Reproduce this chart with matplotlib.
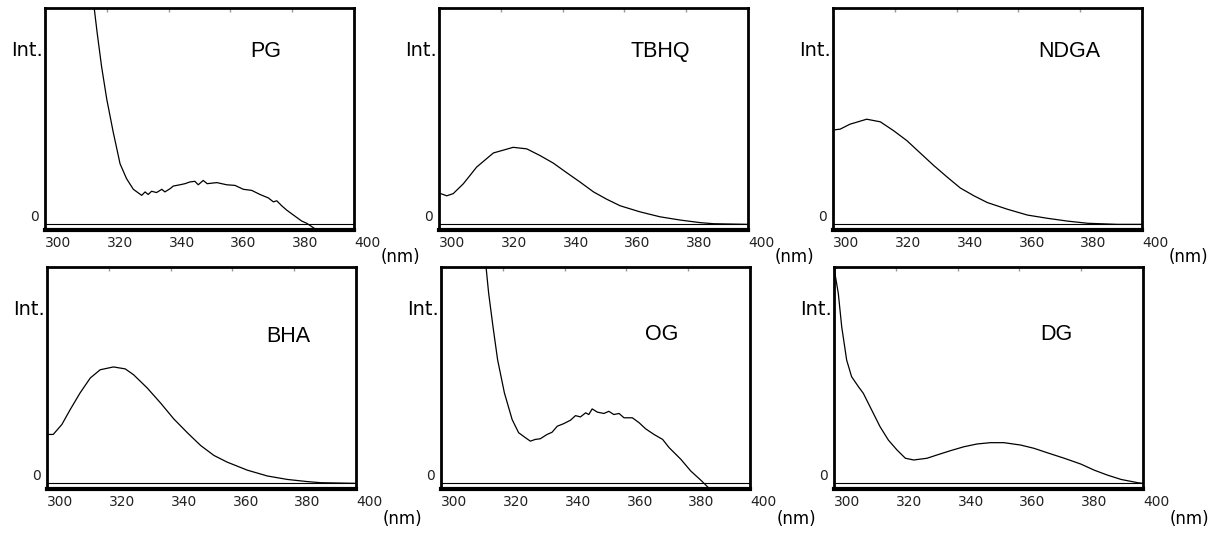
"""
Fluorescence spectra of six antioxidants (PG, TBHQ, NDGA, BHA, OG, DG),
redrawn as a 2x3 grid in the style of an old instrument printout.
"""

import matplotlib
matplotlib.use('Agg')
import matplotlib.pyplot as plt

# --- data (wavelength in nm, intensity in arbitrary units) ---
pg_x = [315.5, 316.0, 316.9, 318.3, 320.0, 322.1, 324.3, 326.4, 328.6, 331.3, 332.4,
        333.4, 334.5, 336.1, 337.8, 338.8, 340.5, 341.5, 343.7, 345.3, 346.9, 348.5,
        349.6, 351.2, 352.5, 355.6, 358.8, 361.5, 364.2, 366.9, 369.6, 372.3, 373.9,
        375.0, 376.6, 378.2, 380.4, 383.1, 384.7, 386.8, 388.0]
pg_y = [106, 99.1, 88.4, 73.1, 57.8, 42.5, 28.0, 21.1, 16.2, 13.4, 15.0,
        13.8, 15.3, 14.7, 16.2, 15.0, 16.5, 17.7, 18.3, 18.8, 19.6, 19.9,
        18.3, 20.3, 18.8, 19.3, 18.3, 18.0, 16.2, 15.7, 13.8, 12.2, 10.4,
        10.9, 8.6, 6.6, 4.3, 1.5, 0.5, -1.5, -2.6]

tbhq_x = [300.0, 302.5, 304.6, 307.9, 312.2, 317.6, 324.0, 328.4, 332.7, 337.0, 341.3,
          345.6, 350.0, 354.3, 358.6, 365.0, 371.5, 378.0, 384.5, 388.8, 400.0]
tbhq_y = [14.5, 13.2, 14.2, 18.8, 26.5, 33.0, 35.6, 34.9, 31.8, 28.3, 23.9,
          19.6, 15.0, 11.6, 8.6, 5.8, 3.5, 2.0, 0.8, 0.3, 0.0]

ndga_x = [300.0, 302.3, 305.5, 310.9, 315.3, 319.6, 323.9, 328.2, 332.6, 336.9, 341.2,
          345.6, 349.9, 356.4, 362.9, 369.4, 375.9, 382.4, 392.1, 400.0]
ndga_y = [43.6, 44.0, 46.3, 48.6, 47.4, 43.3, 38.7, 33.0, 27.2, 21.9, 16.8,
          13.2, 10.1, 7.0, 4.3, 2.8, 1.5, 0.5, 0.0, 0.0]

bha_x = [300.0, 302.0, 304.8, 307.5, 310.7, 314.0, 317.2, 321.5, 325.3, 328.0, 332.4,
         336.7, 341.0, 345.4, 349.7, 354.0, 358.3, 364.8, 371.3, 377.8, 384.3, 388.6, 400.0]
bha_y = [22.6, 22.6, 27.2, 34.1, 41.8, 48.7, 52.5, 53.8, 52.9, 50.2, 44.1,
         37.2, 29.8, 23.4, 17.5, 12.9, 9.8, 6.1, 3.4, 1.8, 0.8, 0.3, 0.0]

og_x = [314.2, 314.6, 315.4, 316.8, 318.3, 320.5, 323.0, 325.1, 327.3, 328.9, 330.5,
        332.1, 334.3, 335.9, 337.6, 339.7, 341.9, 343.5, 345.1, 346.8, 347.8, 348.9,
        350.6, 352.7, 354.3, 355.9, 357.6, 359.2, 361.9, 364.1, 366.2, 368.9, 371.7,
        373.8, 377.6, 380.8, 384.1, 386.8, 387.6]
og_y = [106, 99.4, 87.9, 72.5, 57.1, 41.8, 29.5, 23.4, 21.1, 19.5, 20.3,
        20.6, 22.6, 23.6, 26.4, 27.6, 29.2, 31.3, 30.7, 32.6, 31.8, 34.4,
        32.9, 32.3, 33.3, 31.8, 32.3, 30.3, 30.3, 28.0, 25.2, 22.6, 20.3,
        16.5, 11.1, 5.7, 1.4, -2.4, -3.0]

dg_x = [300.2, 300.3, 301.4, 302.5, 304.1, 305.7, 307.9, 309.5, 312.2, 314.9, 317.6,
        320.4, 323.1, 325.8, 330.1, 333.3, 337.7, 342.0, 346.3, 350.6, 355.0, 360.4,
        364.7, 369.1, 374.5, 379.9, 384.2, 388.5, 392.9, 398.3, 400.0]
dg_y = [106, 97.1, 87.8, 72.4, 57.0, 49.3, 44.7, 41.6, 33.9, 26.2, 20.0,
        15.4, 11.6, 10.8, 11.6, 13.1, 15.1, 16.9, 18.2, 18.8, 18.8, 17.7,
        16.2, 14.1, 11.6, 8.9, 6.1, 3.8, 1.8, 0.3, 0.0]

names = ['PG', 'TBHQ', 'NDGA', 'BHA', 'OG', 'DG']
spectra = [(pg_x, pg_y), (tbhq_x, tbhq_y), (ndga_x, ndga_y),
           (bha_x, bha_y), (og_x, og_y), (dg_x, dg_y)]
x_ticks = [300, 320, 340, 360, 380, 400]

fig = plt.figure(figsize=(12.12, 5.33), dpi=100)

# axes boxes (left, bottom) in figure fraction
positions = [(0.0371, 0.5685), (0.3622, 0.5685), (0.6873, 0.5685),
             (0.0388, 0.0826), (0.3639, 0.0826), (0.6881, 0.0826)]
name_pos = [(0.715, 0.806), (0.715, 0.806), (0.763, 0.806),
            (0.780, 0.685), (0.714, 0.695), (0.721, 0.694)]


def draw_panel(ax, x, y, name, npos, bottom_row):
    """One spectrum box with its odd little labels."""
    ax.plot(x, y, color='black', linewidth=0.9)
    ax.axhline(0, color='black', linewidth=0.8)
    ax.set_xlim(300, 400)
    ax.set_ylim(-2.6, 100)

    for side in ['top', 'left', 'right']:
        ax.spines[side].set_linewidth(2.0)
    ax.spines['bottom'].set_linewidth(3.0)

    ax.set_yticks([])
    ax.set_xticks(x_ticks)
    ax.set_xticklabels([str(t) for t in x_ticks])
    ax.tick_params(axis='x', direction='in', top=True, bottom=False,
                   length=3, width=1, color='0.6', pad=4, labelsize=10,
                   labelcolor='#222222')
    for lab in ax.get_xticklabels():
        lab.set_ha('left')

    ax.text(-0.008, 0.81, 'Int.', transform=ax.transAxes, ha='right', va='center',
            fontsize=14)
    ax.text(-0.02, 0.057, '0', transform=ax.transAxes, ha='right', va='center',
            fontsize=10, color='#222222')
    ax.text(npos[0], npos[1], name, transform=ax.transAxes, ha='center', va='center',
            fontsize=15.5, family='Liberation Sans')
    ax.text(1.085, -0.135 if bottom_row else -0.12, '(nm)', transform=ax.transAxes,
            ha='left', va='center', fontsize=12)


for i, ((x, y), name) in enumerate(zip(spectra, names)):
    ax = fig.add_axes([positions[i][0], positions[i][1], 0.255, 0.4165])
    draw_panel(ax, x, y, name, name_pos[i], i >= 3)

fig.savefig('out.png', dpi=100)
